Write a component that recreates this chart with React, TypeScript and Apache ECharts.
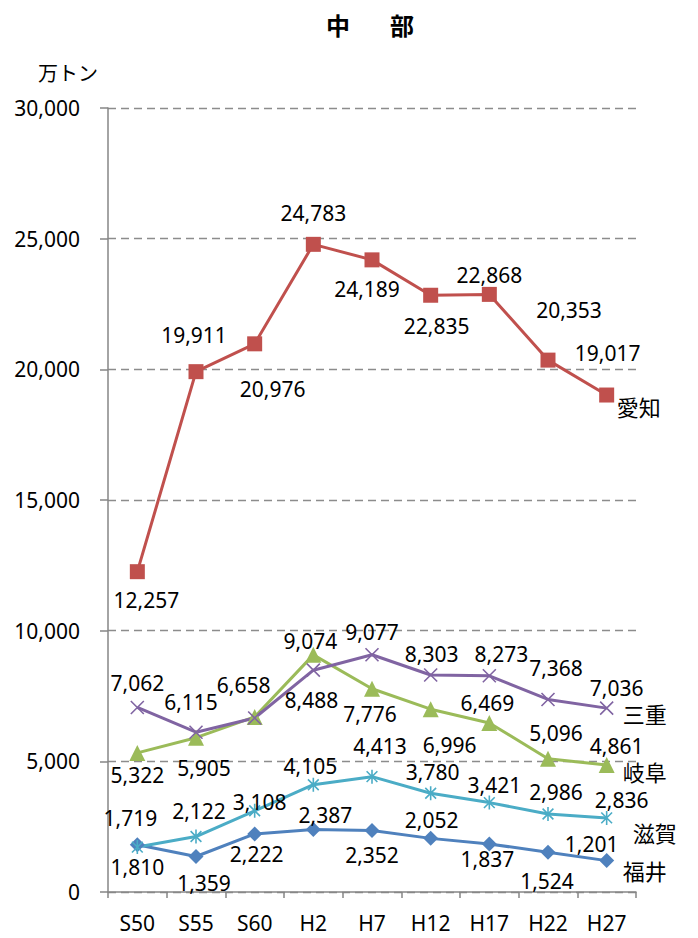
import React, { useEffect, useRef } from "react";
import * as echarts from "echarts";

const categories = ["S50", "S55", "S60", "H2", "H7", "H12", "H17", "H22", "H27"];
const yTicks = [0, 5000, 10000, 15000, 20000, 25000, 30000];
const aichi = [12257, 19911, 20976, 24783, 24189, 22835, 22868, 20353, 19017];
const mie = [7062, 6115, 6658, 8488, 9077, 8303, 8273, 7368, 7036];
const gifu = [5322, 5905, 6700, 9074, 7776, 6996, 6469, 5096, 4861];
const shiga = [1719, 2122, 3108, 4105, 4413, 3780, 3421, 2986, 2836];
const fukui = [1810, 1359, 2222, 2387, 2352, 2052, 1837, 1524, 1201];

// label placement (label center relative to point), null = hidden
const aichiOff = [[9, 28], [-2, -37], [18, 45], [0, -31], [-5, 29], [6, 31], [0, -19], [21, -50], [1, -42]];
const mieOff = [[0, -24], [-5, -30], [-11, -33], [-2, 30], [0, -23], [1, -21], [12, -22], [8, -31], [10, -20]];
const gifuOff = [[0, 22], [8, 30], null, [-3, -14], [-2, 25], [19, 36], [-2, -20], [8, -26], [10, -19]];
const shigaOff = [[-7, -29], [3, -26], [5, -9], [-3, -19], [8, -31], [2, -21], [5, -18], [8, -22], [15, -18]];
const fukuiOff = [[0, 22], [8, 27], [2, 20], [12, -15], [0, 24], [1, -18], [-2, 15], [-1, 29], [-15, -17]];

const LATIN = "'Noto Sans', 'Noto Sans CJK JP', sans-serif";
const CJK = "'Noto Sans CJK JP', sans-serif";
const fmt = (v: number) => v.toLocaleString("en-US");

const X_PATH = "path://M0,0L10,10M10,0L0,10";
const STAR_PATH = "path://M0,0L10,10M10,0L0,10M5,-1.5L5,11.5";

function makeSeries(
  name: string,
  values: number[],
  offs: (number[] | null)[],
  color: string,
  symbol: string,
  symbolSize: number,
  endDist: number,
  endDy: number,
  stroke: boolean
) {
  return {
    name,
    type: "line",
    data: values.map((v, i) => {
      const o = offs[i];
      return o
        ? { value: v, label: { show: true, offset: o } }
        : { value: v, label: { show: false } };
    }),
    symbol,
    symbolSize,
    symbolKeepAspect: true,
    showAllSymbol: true,
    lineStyle: { color, width: 3 },
    itemStyle: stroke
      ? { color, borderColor: color, borderWidth: 1.6 }
      : { color, borderWidth: 0 },
    label: {
      show: true,
      position: "inside",
      formatter: (p: any) => fmt(p.value),
      color: "#000",
      fontSize: 21,
      fontFamily: LATIN,
      textBorderWidth: 0,
    },
    endLabel: {
      show: true,
      formatter: name,
      distance: endDist,
      offset: [0, endDy],
      color: "#000",
      fontSize: 22,
      fontFamily: CJK,
    },
    emphasis: { disabled: true },
  };
}

export default function App() {
  const ref = useRef<HTMLDivElement>(null);
  useEffect(() => {
    if (!ref.current) return;
    const chart = echarts.init(ref.current, undefined, { renderer: "svg" });
    chart.setOption({
      animation: false,
      backgroundColor: "#fff",
      graphic: [
        {
          type: "text",
          x: 370,
          y: 24,
          style: {
            text: "中{s|　}部",
            align: "center",
            verticalAlign: "middle",
            fontSize: 24,
            fontWeight: "bold",
            fontFamily: CJK,
            fill: "#000",
            rich: { s: { fontSize: 40 } },
          },
        },
        {
          type: "text",
          x: 38,
          y: 72,
          style: {
            text: "万トン",
            align: "left",
            verticalAlign: "middle",
            fontSize: 20,
            fontFamily: CJK,
            fill: "#000",
          },
        },
      ],
      grid: { left: 108, right: 62, top: 108, bottom: 46, containLabel: false },
      xAxis: {
        type: "category",
        data: categories,
        boundaryGap: true,
        axisLine: { show: true, lineStyle: { color: "#868686", width: 1.5 } },
        axisTick: { show: true, alignWithLabel: false, length: 6, lineStyle: { color: "#868686", width: 1.5 } },
        axisLabel: { color: "#000", fontSize: 21, lineHeight: 20, fontFamily: LATIN, margin: 21 },
      },
      yAxis: {
        type: "value",
        min: yTicks[0],
        max: yTicks[yTicks.length - 1],
        interval: yTicks[1] - yTicks[0],
        axisLine: { show: true, lineStyle: { color: "#868686", width: 1.5 } },
        axisTick: { show: true, length: 8, lineStyle: { color: "#868686", width: 1.5 } },
        axisLabel: { color: "#000", fontSize: 21, fontFamily: LATIN, margin: 28, formatter: (v: number) => fmt(v) },
        splitLine: { show: true, lineStyle: { color: "#8c8c8c", width: 1.3, type: [8, 5] } },
      },
      series: [
        makeSeries("福井", fukui, fukuiOff, "#4F81BD", "diamond", 15, 16, 9, false),
        makeSeries("滋賀", shiga, shigaOff, "#4BACC6", STAR_PATH, 14, 26, 14, true),
        makeSeries("岐阜", gifu, gifuOff, "#9BBB59", "triangle", 16, 16, 6, false),
        makeSeries("三重", mie, mieOff, "#8064A2", X_PATH, 13, 16, 5, true),
        makeSeries("愛知", aichi, aichiOff, "#C0504D", "rect", 15, 10, 11, false),
      ],
    });
    return () => chart.dispose();
  }, []);
  return (
    <div
      ref={ref}
      style={{ position: "absolute", left: 0, top: 0, width: 698, height: 938 }}
    />
  );
}
